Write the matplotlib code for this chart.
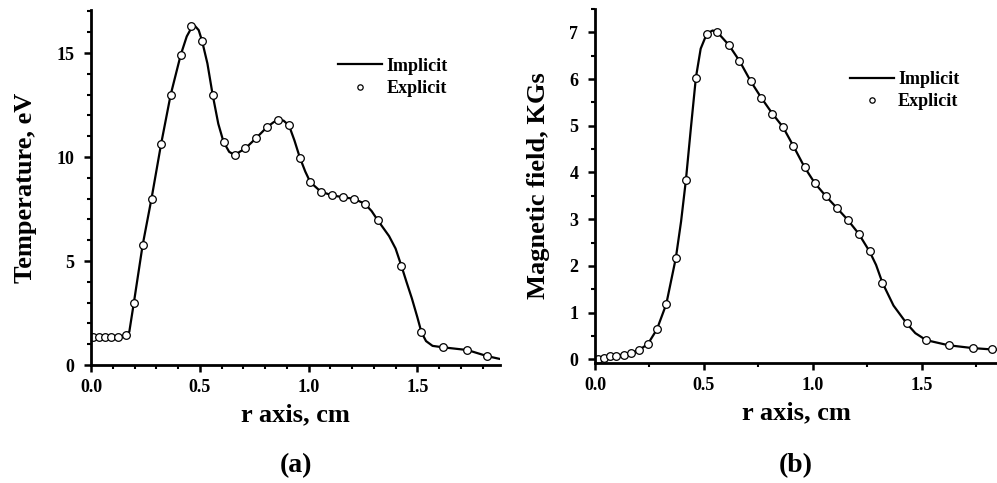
import matplotlib
matplotlib.use("Agg")
import matplotlib.pyplot as plt
from matplotlib.ticker import MultipleLocator, FormatStrFormatter

plt.rcParams['font.family'] = ['Liberation Serif', 'DejaVu Serif']
plt.rcParams['font.weight'] = 'bold'

# (a) temperature, explicit scheme (circles)
r_expl_a = [0.011, 0.035, 0.063, 0.093, 0.125, 0.16, 0.197, 0.237, 0.278, 0.322,
            0.366, 0.412, 0.461, 0.51, 0.559, 0.609, 0.66, 0.71, 0.759, 0.809,
            0.861, 0.91, 0.96, 1.008, 1.056, 1.107, 1.157, 1.208, 1.258, 1.318,
            1.427, 1.519, 1.618, 1.73, 1.82]
T_expl = [1.33, 1.33, 1.33, 1.33, 1.36, 1.42, 3.0, 5.75, 8.0, 10.62,
          12.99, 14.9, 16.3, 15.6, 13.0, 10.73, 10.1, 10.42, 10.91, 11.44,
          11.77, 11.52, 9.97, 8.79, 8.34, 8.16, 8.07, 7.99, 7.76, 6.96,
          4.76, 1.57, 0.85, 0.72, 0.43]

# (a) temperature, implicit scheme (line)
r_impl_a = [0.0, 0.035, 0.063, 0.093, 0.125, 0.16, 0.176, 0.197, 0.237, 0.278,
            0.322, 0.366, 0.412, 0.44, 0.461, 0.478, 0.495, 0.51, 0.535, 0.559,
            0.585, 0.609, 0.635, 0.66, 0.71, 0.759, 0.809, 0.84, 0.861, 0.885,
            0.91, 0.935, 0.96, 0.985, 1.008, 1.056, 1.107, 1.157, 1.208, 1.258,
            1.29, 1.318, 1.37, 1.40, 1.427, 1.45, 1.475, 1.50, 1.519, 1.54,
            1.57, 1.618, 1.73, 1.82, 1.88]
T_impl = [1.33, 1.33, 1.33, 1.33, 1.36, 1.42, 1.6, 3.0, 5.75, 8.0,
          10.62, 12.99, 14.9, 15.8, 16.2, 16.3, 16.1, 15.6, 14.5, 13.0,
          11.6, 10.73, 10.25, 10.1, 10.42, 10.91, 11.44, 11.68, 11.8, 11.75,
          11.52, 10.8, 9.97, 9.3, 8.79, 8.34, 8.16, 8.07, 7.99, 7.76,
          7.4, 6.96, 6.2, 5.6, 4.76, 4.0, 3.2, 2.3, 1.57, 1.15,
          0.92, 0.85, 0.72, 0.43, 0.29]

# (b) magnetic field, explicit scheme (circles)
r_expl_b = [0.012, 0.04, 0.067, 0.098, 0.131, 0.166, 0.20, 0.243, 0.284, 0.327,
            0.371, 0.417, 0.463, 0.513, 0.562, 0.614, 0.663, 0.715, 0.763, 0.814,
            0.863, 0.91, 0.962, 1.009, 1.06, 1.11, 1.159, 1.21, 1.26, 1.319,
            1.43, 1.52, 1.623, 1.733, 1.824]
B_expl = [0.0, 0.03, 0.06, 0.08, 0.10, 0.14, 0.19, 0.33, 0.64, 1.18,
          2.17, 3.83, 6.03, 6.97, 7.0, 6.73, 6.39, 5.95, 5.6, 5.26,
          4.97, 4.57, 4.11, 3.77, 3.49, 3.24, 2.99, 2.69, 2.31, 1.64,
          0.77, 0.41, 0.30, 0.24, 0.21]

# (b) magnetic field, implicit scheme (line)
r_impl_b = [0.0, 0.04, 0.067, 0.098, 0.131, 0.166, 0.20, 0.243, 0.284, 0.327,
            0.371, 0.395, 0.417, 0.44, 0.463, 0.485, 0.513, 0.54, 0.562, 0.614,
            0.663, 0.715, 0.763, 0.814, 0.863, 0.91, 0.962, 1.009, 1.06, 1.11,
            1.159, 1.21, 1.26, 1.29, 1.319, 1.37, 1.43, 1.47, 1.52, 1.623,
            1.733, 1.824, 1.85]
B_impl = [0.0, 0.03, 0.06, 0.08, 0.10, 0.14, 0.19, 0.33, 0.64, 1.18,
          2.17, 2.95, 3.83, 4.95, 6.03, 6.65, 6.97, 7.04, 7.0, 6.73,
          6.39, 5.95, 5.6, 5.26, 4.97, 4.57, 4.11, 3.77, 3.49, 3.24,
          2.99, 2.69, 2.31, 2.02, 1.64, 1.15, 0.77, 0.56, 0.41, 0.30,
          0.24, 0.21, 0.2]

fig = plt.figure(figsize=(9.97, 4.83), dpi=100)
ax1 = fig.add_axes([0.0913, 0.2443, 0.4102, 0.735])
ax2 = fig.add_axes([0.5968, 0.2484, 0.4032, 0.733])


def style_axis(ax, xmax, ylim, ymajor, yminor, xminor):
    for side in ['top', 'right']:
        ax.spines[side].set_visible(False)
    for side in ['left', 'bottom']:
        ax.spines[side].set_linewidth(2.0)
    ax.set_xlim(0, xmax)
    ax.set_ylim(*ylim)
    ax.xaxis.set_major_locator(MultipleLocator(0.5))
    ax.xaxis.set_minor_locator(MultipleLocator(xminor))
    ax.xaxis.set_major_formatter(FormatStrFormatter('%.1f'))
    ax.yaxis.set_major_locator(MultipleLocator(ymajor))
    ax.yaxis.set_minor_locator(MultipleLocator(yminor))
    ax.tick_params(which='major', direction='out', length=5, width=1.8,
                   labelsize=13, pad=7)
    ax.tick_params(which='minor', direction='out', length=3, width=1.5)
    ax.tick_params(axis='x', which='major', pad=5)
    for lab in ax.get_xticklabels() + ax.get_yticklabels():
        lab.set_fontweight('bold')
    ax.set_xlabel('r axis, cm', fontsize=19, fontweight='bold', labelpad=5)


ax1.plot(r_impl_a, T_impl, color='black', lw=1.6, label='Implicit')
ax1.plot(r_expl_a, T_expl, ls='none', marker='o', ms=5.5, mfc='white',
         mec='black', mew=0.9, label='Explicit')
style_axis(ax1, 1.88, (0, 17.07), 5, 1, 0.1)
ax1.set_ylabel('Temperature, eV', fontsize=19, fontweight='bold', labelpad=14)
ax1.legend(loc='upper left', bbox_to_anchor=(0.605, 0.866), frameon=False,
           prop={'family': 'Liberation Serif', 'weight': 'bold', 'size': 13},
           handlelength=2.4, handletextpad=0.25, labelspacing=0.3,
           markerscale=0.7, borderpad=0, borderaxespad=0)

ax2.plot(r_impl_b, B_impl, color='black', lw=1.6, label='Implicit')
ax2.plot(r_expl_b, B_expl, ls='none', marker='o', ms=5.5, mfc='white',
         mec='black', mew=0.9, label='Explicit')
style_axis(ax2, 1.845, (-0.08, 7.5), 1, 0.5, 0.25)
ax2.set_ylabel('Magnetic field, KGs', fontsize=19, fontweight='bold', labelpad=14)
ax2.legend(loc='upper left', bbox_to_anchor=(0.635, 0.825), frameon=False,
           prop={'family': 'Liberation Serif', 'weight': 'bold', 'size': 13},
           handlelength=2.4, handletextpad=0.25, labelspacing=0.3,
           markerscale=0.7, borderpad=0, borderaxespad=0)

fig.text(0.297, 0.035, '(a)', fontsize=20, fontweight='bold', ha='center', va='center')
fig.text(0.798, 0.035, '(b)', fontsize=20, fontweight='bold', ha='center', va='center')

fig.savefig('out.png', dpi=100)
